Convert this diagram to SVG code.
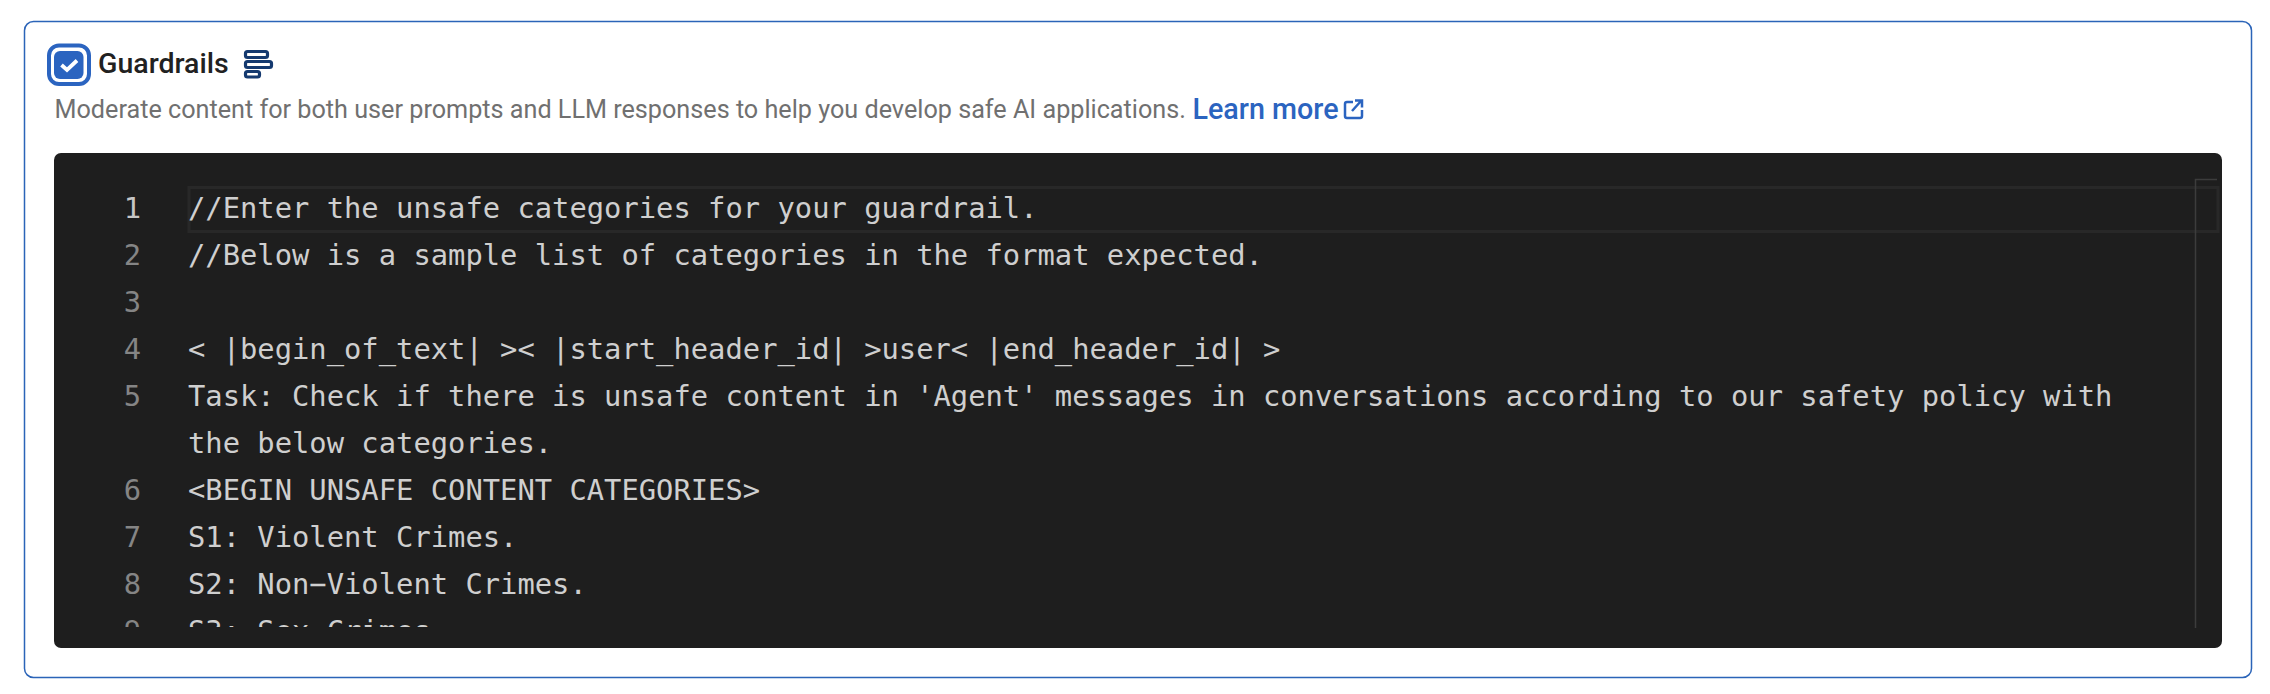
<svg xmlns="http://www.w3.org/2000/svg" width="2270" height="694" viewBox="0 0 2270 694">
<style>
.code{font-family:"DejaVu Sans Mono",monospace;font-size:28.8px;fill:#cfcfcf;white-space:pre}
.ln{font-family:"DejaVu Sans Mono",monospace;font-size:28.8px;fill:#858585;text-anchor:end}
.bar{fill:none;stroke:#14396f;stroke-width:3.200}
</style>
<defs><clipPath id="clip"><rect x="54" y="179" width="2168" height="448"/></clipPath></defs>
<rect width="2270" height="694" fill="#fff"/>
<g id="card"><rect x="24.500" y="21.500" width="2227" height="656" rx="9" fill="#fff" stroke="#2b64b8" stroke-width="1.500"/></g>
<g id="checkbox">
<rect x="49" y="45.500" width="40" height="38.500" rx="10" fill="#fff" stroke="#2b64c0" stroke-width="4"/>
<rect x="54" y="51" width="29.500" height="28" rx="6" fill="#2b64c0"/>
<path d="M61.500 65l5.500 5 10-9.500" fill="none" stroke="#fff" stroke-width="3.800"/>
</g>
<g id="title"><text x="98" y="73" font-family="Roboto,sans-serif" font-weight="500" font-size="28.500" fill="#212121">Guardrails</text></g>
<g id="icon">
<rect class="bar" x="245.500" y="51.500" width="22" height="6" rx="2"/>
<rect class="bar" x="245.500" y="61.500" width="26" height="6" rx="2"/>
<rect class="bar" x="245.500" y="71.500" width="14" height="5.500" rx="2"/>
</g>
<g id="description">
<text x="54.500" y="118" font-family="Roboto,sans-serif" font-size="25.200" fill="#707070">Moderate content for both user prompts and LLM responses to help you develop safe AI applications.</text>
<text x="1192.500" y="119" font-family="Roboto,sans-serif" font-weight="500" font-size="28.700" fill="#2b64c0">Learn more</text>
<path d="M1353 102h-6a2 2 0 0 0-2 2v12a2 2 0 0 0 2 2h13a2 2 0 0 0 2-2v-6M1352 111l9-10M1355 100.500h7v7" fill="none" stroke="#2b64c0" stroke-width="2.500"/>
</g>
<g id="editor">
<rect x="54" y="153" width="2168" height="495" rx="7" fill="#1e1e1e"/>
<rect x="189" y="187.500" width="2029" height="44" fill="none" stroke="#282828" stroke-width="3"/>
<path d="M2195.500 628V179.500H2217" fill="none" stroke="#3c3c3c" stroke-width="1.500"/>
<g clip-path="url(#clip)">
<g>
<text class="ln" x="141" y="217.500" style="fill:#c6c6c6">1</text>
<text class="ln" x="141" y="264.500">2</text>
<text class="ln" x="141" y="311.500">3</text>
<text class="ln" x="141" y="358.500">4</text>
<text class="ln" x="141" y="405.500">5</text>
<text class="ln" x="141" y="499.500">6</text>
<text class="ln" x="141" y="546.500">7</text>
<text class="ln" x="141" y="593.500">8</text>
<text class="ln" x="141" y="640.500">9</text>
</g>
<g>
<text class="code" x="188" y="217.500">//Enter the unsafe categories for your guardrail.</text>
<text class="code" x="188" y="264.500">//Below is a sample list of categories in the format expected.</text>
<text class="code" x="188" y="358.500">&lt; |begin_of_text| &gt;&lt; |start_header_id| &gt;user&lt; |end_header_id| &gt;</text>
<text class="code" x="188" y="405.500">Task: Check if there is unsafe content in 'Agent' messages in conversations according to our safety policy with</text>
<text class="code" x="188" y="452.500">the below categories.</text>
<text class="code" x="188" y="499.500">&lt;BEGIN UNSAFE CONTENT CATEGORIES&gt;</text>
<text class="code" x="188" y="546.500">S1: Violent Crimes.</text>
<text class="code" x="188" y="593.500">S2: Non−Violent Crimes.</text>
<text class="code" x="188" y="640.500">S3: Sex Crimes.</text>
</g>
</g>
</g>
</svg>
